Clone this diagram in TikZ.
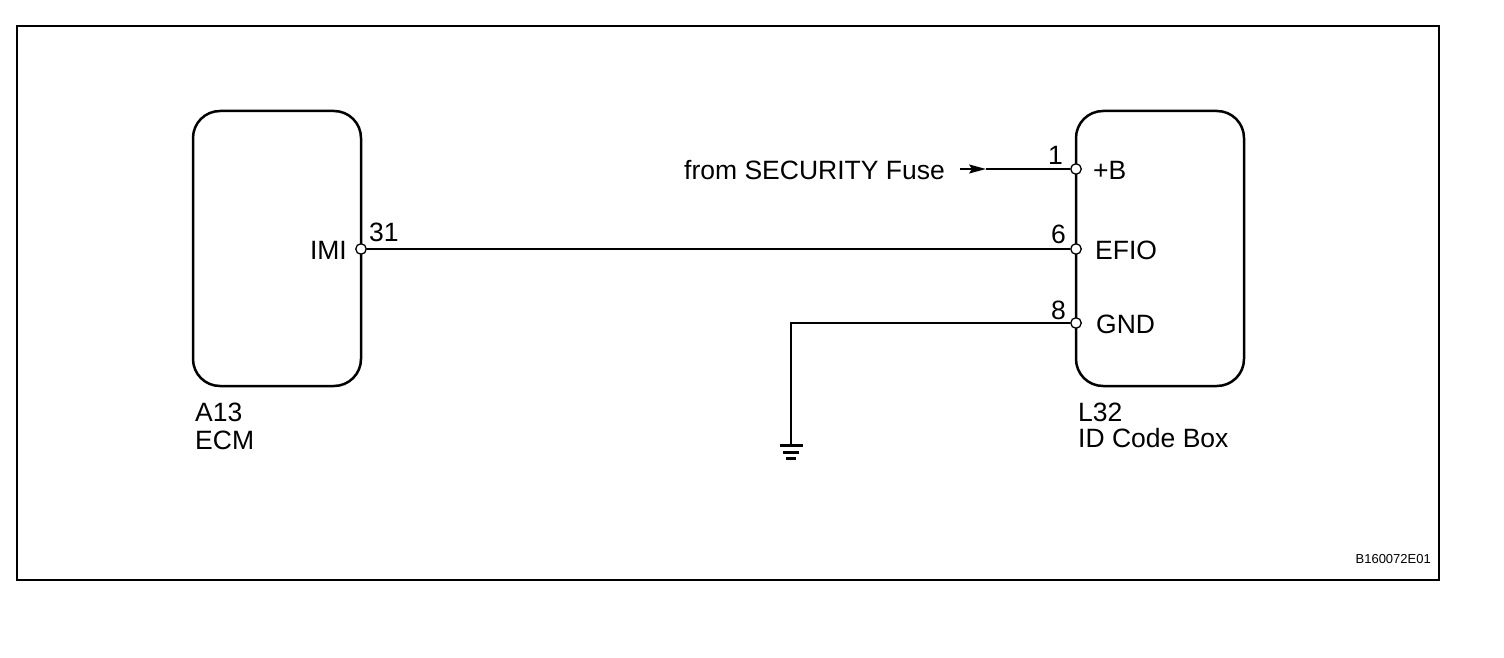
\documentclass[tikz,border=0pt]{standalone}
\usepackage{fontspec}
\setmainfont{Liberation Sans}
\usetikzlibrary{arrows.meta}
\begin{document}
\begin{tikzpicture}[x=1pt,y=-1pt,
  every node/.style={font=\fontsize{26.5}{30}\selectfont, inner sep=0pt},
  frame/.style={line width=2.2pt},
  unitbox/.style={draw, line width=2.5pt, rounded corners=27pt, minimum width=168pt, minimum height=275pt},
  term/.style={draw, circle, fill=white, line width=1.3pt, minimum size=10.5pt, inner sep=0pt},
  wire/.style={line width=1.6pt},
  gbar/.style={line width=3pt}
]
\useasboundingbox (0,0) rectangle (1504,658);
\draw[frame] (17,26) rectangle (1439,580);

% units
\node[unitbox] (ecm) at (277,248.5) {};
\node[unitbox] (idb) at (1160,248.5) {};

% terminals
\node[term] (t31) at (361,249) {};
\node[term] (t1) at (1076,169) {};
\node[term] (t6) at (1076,249) {};
\node[term] (t8) at (1076,323) {};

% labels
\node[anchor=east] at (347,250) {IMI};
\node[anchor=west] at (369,232) {31};
\node[anchor=east] at (1063,155) {1};
\node[anchor=east] at (1066,234) {6};
\node[anchor=east] at (1066,310) {8};
\node[anchor=west] at (1093,170) {+B};
\node[anchor=west] at (1095,250) {EFIO};
\node[anchor=west] at (1096,324) {GND};
\node[anchor=west] (a13) at (195,412) {A13};
\node[anchor=west] (ecml) at (195,440) {ECM};
\node[anchor=west] (l32) at (1078,412) {L32};
\node[anchor=west] (idl) at (1078,438) {ID Code Box};
\node[anchor=east] (fromtxt) at (945,170) {from SECURITY Fuse};
\node[anchor=east, font=\fontsize{13}{14}\selectfont] (code) at (1431,559) {B160072E01};

% wires
\draw[wire] (t31) -- (t6);
\coordinate (src) at (960,169);
\coordinate (tip) at (986,169);
\draw[wire, -{Stealth[length=17pt,width=9pt,inset=3pt]}] (src) -- (tip);
\draw[wire] (tip) -- (t1);
\coordinate (gc) at (791,323);
\coordinate (gnd) at (791,445);
\draw[wire] (t8) -- (gc) -- (gnd);
\draw[gbar] (779.5,445) -- (802.5,445);
\draw[gbar] (783,452) -- (799,452);
\draw[gbar] (786,458.5) -- (796,458.5);
\end{tikzpicture}
\end{document}
